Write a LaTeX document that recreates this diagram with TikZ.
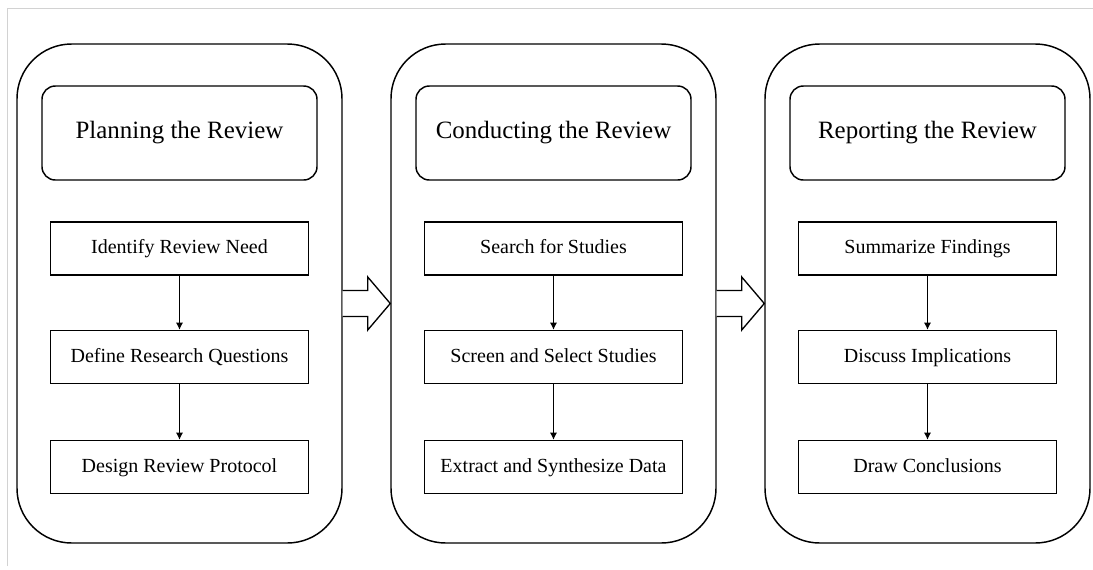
\documentclass[tikz,border=0pt]{standalone}
\usepackage{fontspec}
\setmainfont{Liberation Serif}
\usepackage{tikz}
\usetikzlibrary{arrows.meta,calc}

\begin{document}
\begin{tikzpicture}[x=0.75pt, y=-0.75pt,
	phase/.style={draw, line width=1.1pt, rounded corners=41pt, minimum width=243.75pt, minimum height=374.25pt},
	phasetitle/.style={draw, line width=1.1pt, rounded corners=10pt, minimum width=206.25pt, minimum height=70.5pt, font=\fontsize{18.7}{22}\selectfont},
	stepbox/.style={draw, line width=1pt, minimum width=193.5pt, minimum height=39.75pt, text height=10.5pt, text depth=3pt, font=\fontsize{15}{18}\selectfont},
	flow/.style={line width=0.9pt, -{Latex[length=5.5pt,width=5.5pt]}},
	bigarrow/.style={draw, line width=1pt, fill=white, line join=miter},]

    \useasboundingbox (0,0) rectangle (1093,569);
    \draw[gray!35, line width=0.75pt] (7,566) -- (7,8) -- (1093,8);

    % phases
    \node[phase] (plan) at (179.5,293.5) {};
    \node[phase] (conduct) at (553.5,293.5) {};
    \node[phase] (report) at (927.5,293.5) {};

    \node[phasetitle] (plant) at (179.5,133) {Planning the Review};
    \node[phasetitle] (conductt) at (553.5,133) {Conducting the Review};
    \node[phasetitle] (reportt) at (927.5,133) {Reporting the Review};

    % planning steps
    \node[stepbox] (need) at (179.5,248.5) {Identify Review Need};
    \node[stepbox] (questions) at (179.5,357) {Define Research Questions};
    \node[stepbox] (protocol) at (179.5,467) {Design Review Protocol};
    \draw[flow] (need) -- (questions);
    \draw[flow] (questions) -- (protocol);

    % conducting steps
    \node[stepbox] (search) at (553.5,248.5) {Search for Studies};
    \node[stepbox] (screen) at (553.5,357) {Screen and Select Studies};
    \node[stepbox] (extract) at (553.5,467) {Extract and Synthesize Data};
    \draw[flow] (search) -- (screen);
    \draw[flow] (screen) -- (extract);

    % reporting steps
    \node[stepbox] (summarize) at (927.5,248.5) {Summarize Findings};
    \node[stepbox] (discuss) at (927.5,357) {Discuss Implications};
    \node[stepbox] (conclude) at (927.5,467) {Draw Conclusions};
    \draw[flow] (summarize) -- (discuss);
    \draw[flow] (discuss) -- (conclude);

    % block arrows between phases
    \coordinate (a1) at ($(plan.east)+(0,10)$);
    \coordinate (b1) at ($(conduct.west)+(0,10)$);
    \draw[bigarrow] ($(a1)+(0,-13)$) -- ++(25,0) -- ++(0,-13.5) -- (b1)
	-- ($(a1)+(25,26.5)$) -- ++(0,-13.5) -- ($(a1)+(0,13)$);
    \coordinate (a2) at ($(conduct.east)+(0,10)$);
    \coordinate (b2) at ($(report.west)+(0,10)$);
    \draw[bigarrow] ($(a2)+(0,-13)$) -- ++(25,0) -- ++(0,-13.5) -- (b2)
	-- ($(a2)+(25,26.5)$) -- ++(0,-13.5) -- ($(a2)+(0,13)$);
\end{tikzpicture}
\end{document}
